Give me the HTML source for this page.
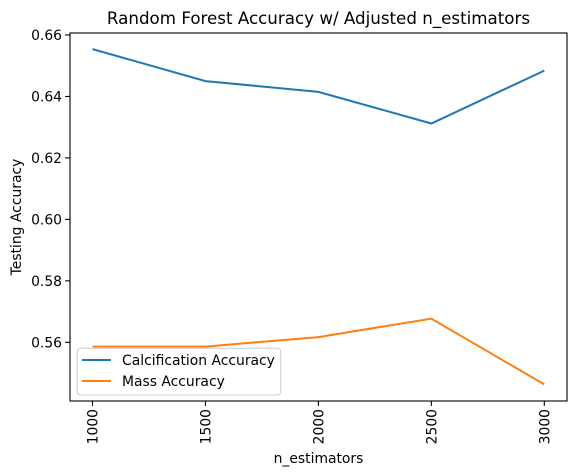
<!DOCTYPE html>
<html><head><meta charset="utf-8"><style>body{margin:0;background:#fff}svg{display:block;font-family:"DejaVu Sans","Liberation Sans",sans-serif}</style></head>
<body>
<svg id="chart" width="576" height="476"></svg>
<script>
const categories=[1000,1500,2000,2500,3000];
const calcValues=[0.6554,0.6450,0.6415,0.6312,0.6484];
const massValues=[0.5586,0.5586,0.5617,0.5677,0.5463];
const yTicks=[0.56,0.58,0.60,0.62,0.64,0.66];
const NS="http://www.w3.org/2000/svg";
const svg=document.getElementById('chart');
const L=70,R=567,T=33,B=401;
const x=v=>92.5+(v-1000)*(544.3-92.5)/2000;
const y=v=>342.3-(v-0.56)*3073;
function mk(t,a,txt){const e=document.createElementNS(NS,t);for(const k in a)e.setAttribute(k,a[k]);if(txt!=null)e.textContent=txt;svg.appendChild(e);return e;}
let e;
e=mk('text',{x:(L+R)/2,y:24,'text-anchor':'middle','font-size':16.7},'Random Forest Accuracy w/ Adjusted n_estimators');


yTicks.forEach(t=>{
 e=mk('line',{x1:L-4.9,x2:L,y1:y(t),y2:y(t),stroke:'#000','stroke-width':1.1});
 
 
 e=mk('text',{x:L-8,y:y(t)+5,'text-anchor':'end','font-size':13.9},t.toFixed(2));
 
 
});
categories.forEach(c=>{
 e=mk('line',{x1:x(c),x2:x(c),y1:B,y2:B+4.9,stroke:'#000','stroke-width':1.1});
 
 
 e=mk('text',{x:0,y:0,'text-anchor':'end','font-size':13.9,transform:`translate(${x(c)+5},${B+8}) rotate(-90)`},String(c));
 
 
});
e=mk('text',{x:(L+R)/2,y:463,'text-anchor':'middle','font-size':13.9},'n_estimators');


e=mk('text',{x:0,y:0,'text-anchor':'middle','font-size':13.9,transform:`translate(21,${(T+B)/2}) rotate(-90)`},'Testing Accuracy');


function line(vals,color,name){
 e=mk('polyline',{points:vals.map((v,i)=>x(categories[i])+','+y(v)).join(' '),fill:'none',stroke:color,'stroke-width':2});
 
 
}
line(calcValues,'#1f77b4','calcification-line');
line(massValues,'#ff7f0e','mass-line');
e=mk('rect',{x:L,y:T,width:R-L,height:B-T,fill:'none',stroke:'#000','stroke-width':1.1});


e=mk('rect',{x:77.3,y:348.3,width:203.4,height:46.7,rx:3,fill:'#fff','fill-opacity':0.8,stroke:'#ccc'});


[['Calcification Accuracy','#1f77b4',360],['Mass Accuracy','#ff7f0e',381]].forEach(([t,c,yy])=>{
 e=mk('line',{x1:82,x2:111,y1:yy,y2:yy,stroke:c,'stroke-width':2});
 
 
 e=mk('text',{x:122,y:yy+5,'font-size':13.9},t);
 
 
});
</script>
</body></html>
